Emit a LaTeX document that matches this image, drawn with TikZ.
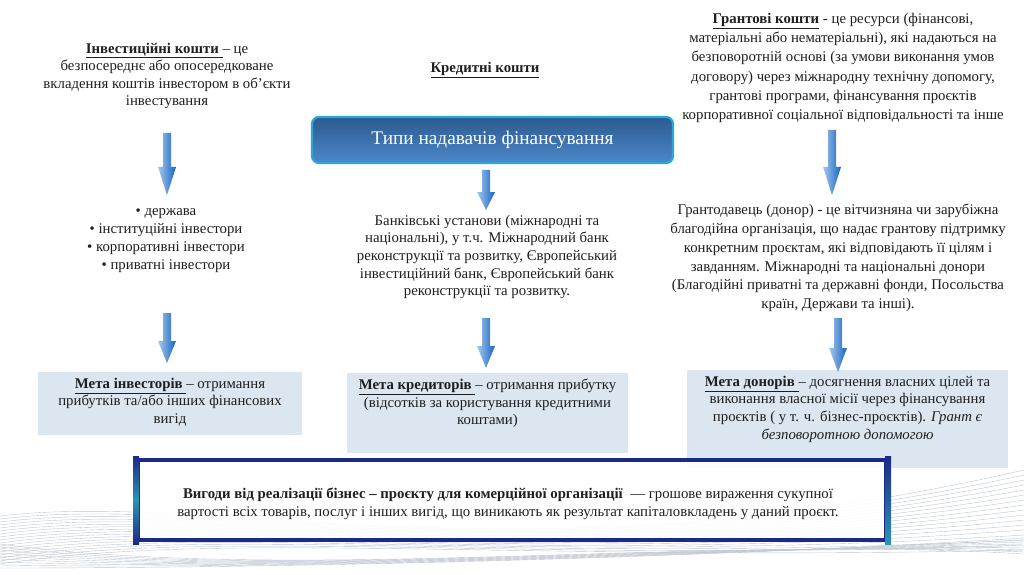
\documentclass[tikz,border=0pt]{standalone}
\usepackage{fontspec}
\setmainfont{Liberation Serif}
\usetikzlibrary{positioning,calc}

\definecolor{boxtop}{HTML}{2B5A8F}
\definecolor{boxbot}{HTML}{4D88CA}
\definecolor{boxrim}{HTML}{2AA6DE}
\definecolor{goalfill}{HTML}{DCE6F1}
\definecolor{navy}{HTML}{1B2A85}
\definecolor{tealrim}{HTML}{2C93B5}
\definecolor{arrlight}{HTML}{A6C8EC}
\definecolor{arrdark}{HTML}{1563C4}
\definecolor{ink}{HTML}{1E1E1E}
\definecolor{wavegray}{HTML}{BFC6D1}

\tikzset{
  txt/.style={align=center, inner sep=0pt, text=ink, font=\fontsize{14.8}{17.6}\selectfont},
  typesbox/.style={rounded corners=7pt, top color=boxtop, bottom color=boxbot, draw=boxrim,
    line width=2.2pt, text=white, minimum width=361pt, minimum height=46pt,
    font=\fontsize{19.3}{21}\selectfont},
  goalbox/.style={fill=goalfill, inner sep=0pt},
  benefitbox/.style={fill=white, fill opacity=0.9, draw=navy, line width=4pt, inner sep=0pt},
  wave/.style={wavegray, line width=0.4pt},
}

\newcommand{\blockarr}[3]{%
  \shade[left color=arrlight, right color=arrdark]
    ($(#1)+(-4,0)$) -- ($(#2)+(-4,#3)$) -- ($(#2)+(-9,#3)$) -- (#2)
    -- ($(#2)+(9,#3)$) -- ($(#2)+(4,#3)$) -- ($(#1)+(4,0)$) -- cycle;}

\begin{document}
\begin{tikzpicture}[x=1pt,y=1pt]
    \useasboundingbox (0,0) rectangle (1024,574);

    \begin{scope}
        \clip (0,0) rectangle (1024,574);
        \foreach \k in {0,...,16}
            \draw[wave] (0,{58-\k*3}) .. controls (220,{84-\k*2.5}) and (520,{-12+\k*1.5}) .. (1024,{104-\k*5});
        \foreach \k in {0,...,8}
            \draw[wave] (0,{30-\k*3}) .. controls (300,{-10+\k*2}) and (700,{40-\k*3}) .. (1024,{20+\k*2});
    \end{scope}

    \node[txt] (inv) at (167,498) {\underline{\textbf{Інвестиційні кошти }}– це\\безпосереднє або опосередковане\\вкладення коштів інвестором в об'єкти\\інвестування};
    \node[txt] (cred) at (485,504) {\underline{\textbf{Кредитні кошти}}};
    \node[txt, font=\fontsize{14.8}{19.2}\selectfont] (grant) at (843,506) {\underline{\textbf{Грантові кошти}} - це ресурси (фінансові,\\матеріальні або нематеріальні), які надаються на\\безповоротній основі (за умови виконання умов\\договору) через міжнародну технічну допомогу,\\грантові програми, фінансування проєктів\\корпоративної соціальної відповідальності та інше};

    \node[typesbox] (types) at (492.5,434) {Типи надавачів фінансування};

    \node[txt, font=\fontsize{14.8}{18}\selectfont] (list) at (166,333) {\textbullet~держава\\\textbullet~інституційні інвестори\\\textbullet~корпоративні інвестори\\\textbullet~приватні інвестори};
    \node[txt] (bank) at (487,317) {Банківські установи (міжнародні та\\національні), у т.ч. Міжнародний банк\\реконструкції та розвитку, Європейський\\інвестиційний банк, Європейський банк\\реконструкції та розвитку.};
    \node[txt, font=\fontsize{14.8}{18.7}\selectfont] (donor) at (838,316) {Грантодавець (донор) - це вітчизняна чи зарубіжна\\благодійна організація, що надає грантову підтримку\\конкретним проєктам, які відповідають її цілям і\\завданням. Міжнародні та національні донори\\(Благодійні приватні та державні фонди, Посольства\\країн, Держави та інші).};

    \node[goalbox, minimum width=264pt, minimum height=63pt] (goalinv) at (170,170.5) {};
    \node[goalbox, minimum width=281pt, minimum height=80pt] (goalcred) at (487.5,161) {};
    \node[goalbox, minimum width=321pt, minimum height=98pt] (goaldon) at (847.5,155) {};
    \node[txt, below=6pt of goalinv.north] (goalinvtext) {\underline{\textbf{Мета інвесторів }}– отримання\\прибутків та/або інших фінансових\\вигід};
    \node[txt, below=6pt of goalcred.north] (goalcredtext) {\underline{\textbf{Мета кредиторів }}– отримання прибутку\\(відсотків за користування кредитними\\коштами)};
    \node[txt, below=6pt of goaldon.north] (goaldontext) {\underline{\textbf{Мета донорів }}– досягнення власних цілей та\\виконання власної місії через фінансування\\проєктів ( у т. ч. бізнес-проєктів). \textit{Грант є}\\\textit{безповоротною допомогою}};

    \node[benefitbox, minimum width=748pt, minimum height=80pt] (benefit) at (512,74) {};
    \shade[top color=navy, bottom color=navy, middle color=tealrim] ($(benefit.north west)+(-3,2)$) rectangle ($(benefit.south west)+(3,-2)$);
    \shade[top color=navy, bottom color=tealrim] ($(benefit.north east)+(-3,2)$) rectangle ($(benefit.south east)+(3,-2)$);
    \node[txt, font=\fontsize{14.8}{18}\selectfont] (benefittext) at (508,70) {\textbf{Вигоди від реалізації бізнес – проєкту для комерційної організації}~ — грошове вираження сукупної\\вартості всіх товарів, послуг і інших вигід, що виникають як результат капіталовкладень у даний проєкт.};

    \coordinate (a1s) at (167,441);
    \coordinate (a1e) at (167,379);
    \coordinate (a2s) at (486,404);
    \coordinate (a2e) at (486,364);
    \coordinate (a3s) at (832,444);
    \coordinate (a3e) at (832,379);
    \coordinate (a4s) at (167,261);
    \coordinate (a4e) at (167,211);
    \coordinate (a5s) at (486,256);
    \coordinate (a5e) at (486,206);
    \coordinate (a6s) at (838,256);
    \coordinate (a6e) at (838,202);
    \blockarr{a1s}{a1e}{28}
    \blockarr{a2s}{a2e}{18}
    \blockarr{a3s}{a3e}{28}
    \blockarr{a4s}{a4e}{22}
    \blockarr{a5s}{a5e}{22}
    \blockarr{a6s}{a6e}{24}
\end{tikzpicture}
\end{document}
